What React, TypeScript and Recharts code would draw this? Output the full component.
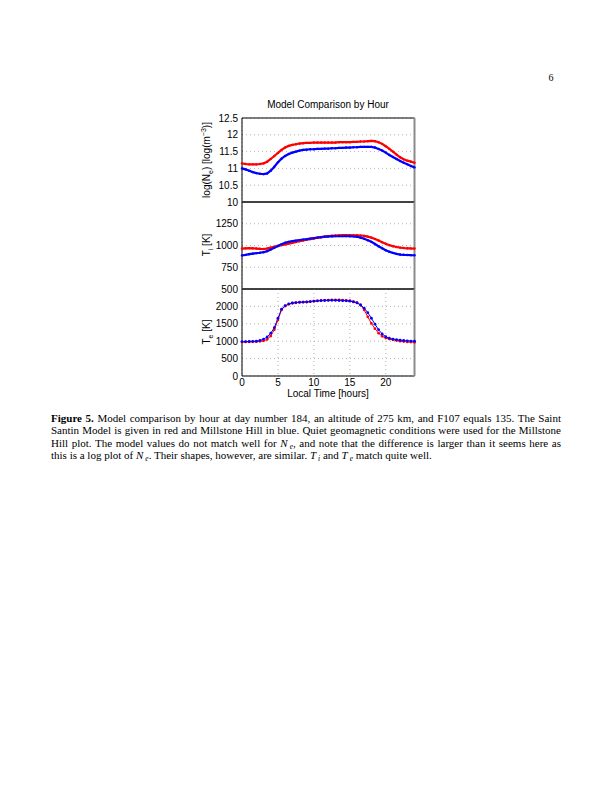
import React from "react";
import {
  LineChart,
  Line,
  XAxis,
  YAxis,
  CartesianGrid,
  ReferenceArea,
  ReferenceLine,
} from "recharts";

// local time, half-hour steps
const HOURS = [
  0, 0.5, 1, 1.5, 2, 2.5, 3, 3.5, 4, 4.5, 5, 5.5, 6, 6.5, 7, 7.5, 8, 8.5, 9, 9.5,
  10, 10.5, 11, 11.5, 12, 12.5, 13, 13.5, 14, 14.5, 15, 15.5, 16, 16.5, 17, 17.5,
  18, 18.5, 19, 19.5, 20, 20.5, 21, 21.5, 22, 22.5, 23, 23.5, 24,
];

// Saint Santin (red) / Millstone Hill (blue)
const NE_SAINT = [
  11.15, 11.13, 11.12, 11.12, 11.12, 11.13, 11.15, 11.2, 11.28, 11.37, 11.46, 11.55,
  11.62, 11.67, 11.7, 11.72, 11.74, 11.75, 11.76, 11.76, 11.77, 11.77, 11.77, 11.77,
  11.77, 11.77, 11.77, 11.78, 11.78, 11.78, 11.78, 11.79, 11.79, 11.8, 11.8, 11.81,
  11.82, 11.81, 11.78, 11.73, 11.66, 11.58, 11.5, 11.41, 11.33, 11.27, 11.23, 11.2, 11.17,
];
const NE_MILL = [
  11.0, 10.97, 10.93, 10.89, 10.86, 10.84, 10.83, 10.85, 10.93, 11.05, 11.18, 11.29,
  11.37, 11.43, 11.47, 11.5, 11.53, 11.55, 11.56, 11.57, 11.57, 11.58, 11.58, 11.59,
  11.59, 11.6, 11.6, 11.61, 11.61, 11.62, 11.62, 11.63, 11.63, 11.64, 11.64, 11.64,
  11.64, 11.62, 11.58, 11.53, 11.47, 11.4, 11.34, 11.28, 11.22, 11.17, 11.12, 11.07, 11.03,
];
const TI_SAINT = [
  965, 968, 970, 968, 965, 962, 960, 965, 975, 985, 995, 1005, 1013, 1022, 1031, 1040,
  1050, 1058, 1066, 1074, 1081, 1089, 1096, 1102, 1108, 1112, 1115, 1117, 1119, 1119,
  1119, 1118, 1117, 1115, 1111, 1102, 1090, 1075, 1058, 1038, 1020, 1004, 992, 983,
  976, 971, 968, 966, 965,
];
const TI_MILL = [
  885, 892, 900, 906, 912, 917, 923, 935, 954, 975, 995, 1015, 1031, 1042, 1050, 1056,
  1062, 1068, 1073, 1079, 1085, 1091, 1096, 1100, 1104, 1106, 1108, 1108, 1108, 1108,
  1107, 1105, 1100, 1090, 1077, 1060, 1042, 1017, 992, 968, 946, 928, 915, 904, 896,
  893, 891, 889, 888,
];
const TE_SAINT = [
  975, 978, 980, 983, 985, 995, 1010, 1050, 1150, 1330, 1610, 1900, 2010, 2060, 2090,
  2105, 2115, 2120, 2125, 2135, 2150, 2160, 2170, 2175, 2180, 2185, 2185, 2185, 2180,
  2175, 2165, 2140, 2110, 2040, 1900, 1700, 1510, 1360, 1230, 1140, 1090, 1060, 1040,
  1020, 1000, 990, 980, 975, 970,
];
const TE_MILL = [
  990, 990, 992, 995, 1000, 1020, 1060, 1120, 1230, 1390, 1660, 1920, 2020, 2070, 2100,
  2110, 2120, 2125, 2130, 2140, 2150, 2160, 2165, 2170, 2175, 2175, 2175, 2170, 2165,
  2160, 2150, 2130, 2100, 2040, 1950, 1820, 1660, 1490, 1330, 1210, 1130, 1085, 1060,
  1045, 1030, 1020, 1010, 1005, 1000,
];

const X_TICKS = [0, 5, 10, 15, 20];
const NE_TICKS = [10, 10.5, 11, 11.5, 12, 12.5];
const TI_TICKS = [500, 750, 1000, 1250];
const TE_TICKS = [0, 500, 1000, 1500, 2000];

const RED = "#ff0000";
const BLUE = "#0000ff";
const FONT = "'Liberation Sans', Arial, sans-serif";
const SERIF = "'Liberation Serif', 'Times New Roman', serif";

const tick = { fill: "#000", fontSize: 10, fontFamily: FONT };

function build(a: number[], b: number[]) {
  return HOURS.map((h, i) => ({ h, red: a[i], blue: b[i] }));
}

interface PanelProps {
  top: number;
  plotHeight: number;
  data: { h: number; red: number; blue: number }[];
  domain: [number, number];
  ticks: number[];
  showX?: boolean;
  lineWidth: number;
  dotR: number;
}

function Panel({ top, plotHeight, data, domain, ticks, showX, lineWidth, dotR }: PanelProps) {
  const xh = showX ? 20 : 0;
  const pad = showX ? 0 : 8;
  return (
    <div style={{ position: "absolute", left: 0, top }}>
      <LineChart
        width={612}
        height={10 + plotHeight + xh + pad}
        data={data}
        margin={{ top: 10, right: 197.5, left: 202, bottom: pad }}
      >
        <CartesianGrid stroke="#b4b4b4" strokeDasharray="1 3" />
        <XAxis
          dataKey="h"
          type="number"
          domain={[0, 24]}
          ticks={X_TICKS}
          height={xh}
          tick={showX ? tick : false}
          tickLine={false}
          axisLine={false}
          tickSize={0}
          tickMargin={3}
        />
        <YAxis
          type="number"
          domain={domain}
          ticks={ticks}
          width={40}
          tick={tick}
          tickLine={false}
          axisLine={false}
          tickSize={0}
          tickMargin={4}
          interval={0}
        />
        <ReferenceArea
          x1={0}
          x2={24}
          y1={domain[0]}
          y2={domain[1]}
          stroke="#000"
          strokeWidth={1}
          fill="none"
          fillOpacity={0}
        />
        <ReferenceLine x={24} stroke="#8a8a8a" strokeWidth={2} />
        <Line
          dataKey="red"
          stroke={RED}
          strokeWidth={lineWidth}
          dot={{ r: dotR, fill: RED, stroke: "none" }}
          isAnimationActive={false}
        />
        <Line
          dataKey="blue"
          stroke={BLUE}
          strokeWidth={lineWidth}
          dot={{ r: dotR, fill: BLUE, stroke: "none" }}
          isAnimationActive={false}
        />
      </LineChart>
    </div>
  );
}

const subStyle: React.CSSProperties = {
  fontSize: 7.5,
  marginLeft: 2,
  lineHeight: 0,
  verticalAlign: "-2px",
};

const CAPTION = [
  <>
    <b>Figure 5.</b> Model comparison by hour at day number 184, an altitude of 275 km, and F107
    equals 135. The Saint
  </>,
  <>
    Santin Model is given in red and Millstone Hill in blue. Quiet geomagnetic conditions were
    used for the Millstone
  </>,
  <>
    Hill plot. The model values do not match well for <i>N</i>
    <span style={subStyle}>
      <i>e</i>
    </span>
    , and note that the difference is larger than it seems here as
  </>,
  <>
    this is a log plot of <i>N</i>
    <span style={subStyle}>
      <i>e</i>
    </span>
    . Their shapes, however, are similar. <i>T</i>
    <span style={subStyle}>
      <i>i</i>
    </span>{" "}
    and <i>T</i>
    <span style={subStyle}>
      <i>e</i>
    </span>{" "}
    match quite well.
  </>,
];

export default function App() {
  return (
    <div
      style={{
        position: "absolute",
        left: 0,
        top: 0,
        width: 612,
        height: 792,
        background: "#fff",
        overflow: "hidden",
      }}
    >
      <Panel
        top={108}
        plotHeight={84}
        data={build(NE_SAINT, NE_MILL)}
        domain={[10, 12.5]}
        ticks={NE_TICKS}
        lineWidth={2.2}
        dotR={1.2}
      />
      <Panel
        top={192}
        plotHeight={87}
        data={build(TI_SAINT, TI_MILL)}
        domain={[500, 1500]}
        ticks={TI_TICKS}
        lineWidth={2.2}
        dotR={1.2}
      />
      <Panel
        top={279}
        plotHeight={87}
        data={build(TE_SAINT, TE_MILL)}
        domain={[0, 2500]}
        ticks={TE_TICKS}
        showX
        lineWidth={1}
        dotR={1.4}
      />

      <svg
        width={612}
        height={792}
        style={{ position: "absolute", left: 0, top: 0, pointerEvents: "none" }}
        fontFamily={FONT}
        fontSize={10}
      >
        <text x={328} y={108} textAnchor="middle" fill="#000">
          Model Comparison by Hour
        </text>
        <text x={210} y={160} textAnchor="middle" transform="rotate(-90 210 160)" fill="#000">
          log(N
          <tspan fontSize={7} dy={3}>e</tspan>
          <tspan dy={-3}>) [log(m</tspan>
          <tspan fontSize={7} dy={-4}>−3</tspan>
          <tspan dy={4}>)]</tspan>
        </text>
        <text x={210} y={245} textAnchor="middle" transform="rotate(-90 210 245)" fill="#000">
          T
          <tspan fontSize={7} dy={3}>i</tspan>
          <tspan dy={-3}> [K]</tspan>
        </text>
        <text x={210} y={332} textAnchor="middle" transform="rotate(-90 210 332)" fill="#000">
          T
          <tspan fontSize={7} dy={3}>e</tspan>
          <tspan dy={-3}> [K]</tspan>
        </text>
        <text x={328} y={397} textAnchor="middle" fill="#000">
          Local Time [hours]
        </text>
        <text x={551} y={81} textAnchor="middle" fontFamily={SERIF} fontSize={10} fill="#000">
          6
        </text>
      </svg>

      <div
        style={{
          position: "absolute",
          left: 51,
          top: 412,
          width: 510,
          fontFamily: SERIF,
          fontSize: 11,
          lineHeight: "12.3px",
          color: "#000",
        }}
      >
        {CAPTION.map((line, i) => (
          <div
            key={i}
            style={{
              textAlign: i < 3 ? "justify" : "left",
              textAlignLast: i < 3 ? "justify" : "left",
              whiteSpace: "nowrap",
              height: 12.3,
            }}
          >
            {line}
          </div>
        ))}
      </div>
    </div>
  );
}
